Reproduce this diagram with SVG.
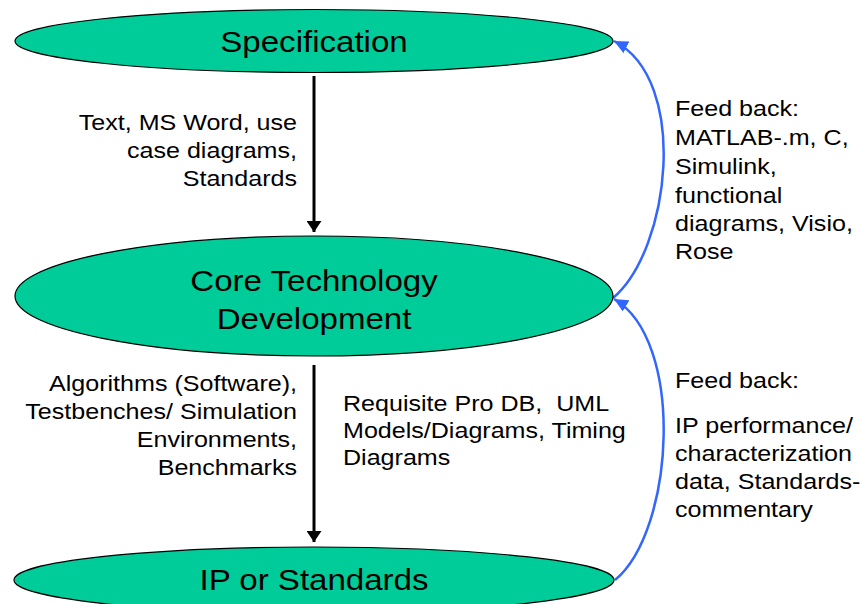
<svg xmlns="http://www.w3.org/2000/svg" width="862" height="604" viewBox="0 0 862 604">
<style>
.node{fill:#00CC99;stroke:#000;stroke-width:1.2}
.nt{font-family:"Liberation Sans",Arial,sans-serif;font-size:29px;fill:#000;text-anchor:middle}
.lbl{font-family:"Liberation Sans",Arial,sans-serif;font-size:22px;fill:#000}
.end{text-anchor:end}
.down{stroke:#000;stroke-width:3;fill:none}
.fb{stroke:#3366FF;stroke-width:2.5;fill:none}
</style>
<defs>
<marker id="ah" markerUnits="userSpaceOnUse" markerWidth="11" markerHeight="15" refX="11" refY="7.5" orient="auto" viewBox="0 0 11 15">
<path d="M0,0 L11,7.5 L0,15 z" fill="#000"/>
</marker>
<marker id="bh" markerUnits="userSpaceOnUse" markerWidth="14" markerHeight="13" refX="14" refY="6.5" orient="auto" viewBox="0 0 14 13">
<path d="M0,0 L14,6.5 L0,13 z" fill="#3366FF"/>
</marker>
</defs>
<rect width="862" height="604" fill="#fff"/>
<g id="connectors">
<line class="down" x1="314" y1="76" x2="314" y2="232" marker-end="url(#ah)"/>
<line class="down" x1="314" y1="365" x2="314" y2="542" marker-end="url(#ah)"/>
<path class="fb" d="M613,298 C670,250 690,80 614,41" marker-end="url(#bh)"/>
<path class="fb" d="M615,580 C675,530 685,340 614,299" marker-end="url(#bh)"/>
</g>
<g id="spec">
<ellipse class="node" cx="314" cy="41" rx="299" ry="31.5"/>
<text class="nt" transform="translate(314 52) scale(1.14 1)" x="0" y="0">Specification</text>
</g>
<g id="core">
<ellipse class="node" cx="314" cy="296" rx="299" ry="60"/>
<text class="nt" transform="translate(314 291) scale(1.14 1)" x="0" y="0">Core Technology</text>
<text class="nt" transform="translate(314 329) scale(1.14 1)" x="0" y="0">Development</text>
</g>
<g id="ip">
<ellipse class="node" cx="314" cy="580" rx="300" ry="33"/>
<text class="nt" transform="translate(314 590) scale(1.14 1)" x="0" y="0">IP or Standards</text>
</g>
<g id="label-spec-core" class="lbl end" transform="translate(297 0) scale(1.14 1)">
<text class="lbl end" x="0" y="130">Text, MS Word, use</text>
<text class="lbl end" x="0" y="158">case diagrams,</text>
<text class="lbl end" x="0" y="186">Standards</text>
</g>
<g id="label-core-ip-left" transform="translate(297 0) scale(1.14 1)">
<text class="lbl end" x="0" y="391">Algorithms (Software),</text>
<text class="lbl end" x="0" y="419">Testbenches/ Simulation</text>
<text class="lbl end" x="0" y="447">Environments,</text>
<text class="lbl end" x="0" y="475">Benchmarks</text>
</g>
<g id="label-core-ip-right" transform="translate(343 0) scale(1.14 1)">
<text class="lbl" x="0" y="411" xml:space="preserve">Requisite Pro DB,  UML</text>
<text class="lbl" x="0" y="438">Models/Diagrams, Timing</text>
<text class="lbl" x="0" y="465">Diagrams</text>
</g>
<g id="label-feedback-1" transform="translate(675 0) scale(1.14 1)">
<text class="lbl" x="0" y="116">Feed back:</text>
<text class="lbl" x="0" y="145">MATLAB-.m, C,</text>
<text class="lbl" x="0" y="174">Simulink,</text>
<text class="lbl" x="0" y="203">functional</text>
<text class="lbl" x="0" y="231">diagrams, Visio,</text>
<text class="lbl" x="0" y="259">Rose</text>
</g>
<g id="label-feedback-2" transform="translate(675 0) scale(1.14 1)">
<text class="lbl" x="0" y="388">Feed back:</text>
<text class="lbl" x="0" y="433">IP performance/</text>
<text class="lbl" x="0" y="461">characterization</text>
<text class="lbl" x="0" y="489">data, Standards-</text>
<text class="lbl" x="0" y="517">commentary</text>
</g>
</svg>
